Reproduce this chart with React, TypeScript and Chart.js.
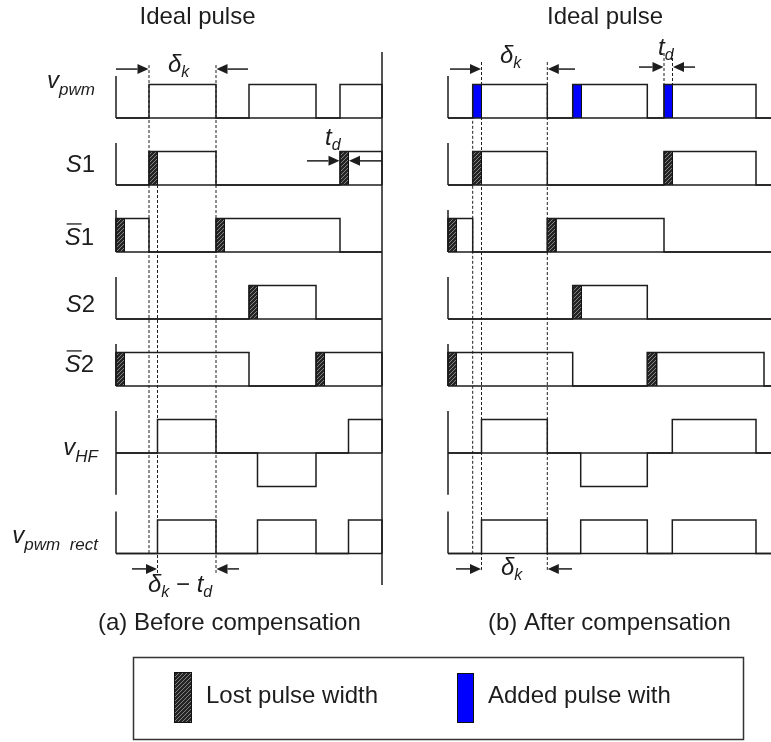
import React, { useEffect, useRef } from 'react';
import { Chart, registerables } from 'chart.js';

Chart.register(...registerables);

const FONT = '"Liberation Sans", Arial, Helvetica, sans-serif';
const INK = '#1d1d1d';
const BLUE = '#0000ff';

// ---- time axis (same units for both panels, each panel starts at t = 0) ----
const PANEL_A_OFFSET = 0;
const PANEL_B_OFFSET = 332;
const PANEL_A_END = 266;
const PANEL_B_END = 323;
const X_RANGE = [-116, 655];

// ---- rows: baseline level of each trace (logic-level units) ----
const ROW_BASES = [0, -2, -4, -6, -8, -10, -13];
const STUB = 1.25;
const Y_RANGE = [-18.627, 3.522];

type Seg = [number, number, number]; // start, end, level
type Span = [number, number];

// (a) Before compensation
const A_VPWM: Seg[] = [[33, 100, 1], [133, 200, 1], [224, 266, 1]];
const A_S1: Seg[] = [[33, 100, 1], [224, 266, 1]];
const A_S1BAR: Seg[] = [[0, 33, 1], [100, 224, 1]];
const A_S2: Seg[] = [[133, 200, 1]];
const A_S2BAR: Seg[] = [[0, 133, 1], [200, 266, 1]];
const A_VHF: Seg[] = [[41.5, 100, 1], [141.5, 200, -1], [232.5, 266, 1]];
const A_VRECT: Seg[] = [[41.5, 100, 1], [141.5, 200, 1], [232.5, 266, 1]];
const A_LOST_S1: Span[] = [[33, 41.5], [224, 232.5]];
const A_LOST_S1BAR: Span[] = [[0, 8.5], [100, 108.5]];
const A_LOST_S2: Span[] = [[133, 141.5]];
const A_LOST_S2BAR: Span[] = [[0, 8.5], [200, 208.5]];

// (b) After compensation
const B_VPWM: Seg[] = [[24.7, 99.3, 1], [124.7, 199.3, 1], [216, 308, 1]];
const B_S1: Seg[] = [[24.7, 99.3, 1], [216, 308, 1]];
const B_S1BAR: Seg[] = [[0, 24.7, 1], [99.3, 216, 1]];
const B_S2: Seg[] = [[124.7, 199.3, 1]];
const B_S2BAR: Seg[] = [[0, 124.7, 1], [199.3, 316, 1]];
const B_VHF: Seg[] = [[33.5, 99.3, 1], [132.7, 199.3, -1], [224.3, 308, 1]];
const B_VRECT: Seg[] = [[33.5, 99.3, 1], [132.7, 199.3, 1], [224.3, 308, 1]];
const B_ADDED_VPWM: Span[] = [[24.7, 33.5], [124.7, 133.5], [216, 224.5]];
const B_LOST_S1: Span[] = [[24.7, 33.5], [216, 224.5]];
const B_LOST_S1BAR: Span[] = [[0, 8.5], [99.3, 108]];
const B_LOST_S2: Span[] = [[124.7, 133.5]];
const B_LOST_S2BAR: Span[] = [[0, 8.5], [199.3, 208.7]];

// dashed guide lines: [t, yTop, yBottom]
const A_GUIDES = [[33, 1.58, -12.99], [41.5, -2, -13.58], [100, 1.58, -13.58]];
const B_GUIDES = [[24.7, 0.96, -12.99], [33.5, 1.67, -13.49], [99.3, 1.67, -13.49], [216, 1.94, 0.96], [224.5, 1.94, 0.96]];
const DIVIDER = [266, 1.97, -13.94];

// dimension arrows: [tFrom, tTip, y]
const A_ARROWS = [[0, 32.5, 1.46], [132, 100.5, 1.46], [191, 223.5, -1.28], [266, 233, -1.28], [16, 41, -13.46], [123, 100.5, -13.46]];
const B_ARROWS = [[2, 33, 1.46], [127, 99.8, 1.46], [191, 215.5, 1.52], [247, 225, 1.52], [8, 33, -13.46], [124, 99.8, -13.46]];

type Part = { t: string; it?: boolean; sub?: boolean };
const DK: Part[] = [{ t: 'δ', it: true }, { t: 'k', it: true, sub: true }];
const TD: Part[] = [{ t: 't', it: true }, { t: 'd', it: true, sub: true }];
const DK_TD: Part[] = [...DK, { t: ' − ' }, ...TD];

const ROW_LABELS: { parts: Part[]; bar?: boolean }[] = [
  { parts: [{ t: 'v', it: true }, { t: 'pwm', it: true, sub: true }] },
  { parts: [{ t: 'S', it: true }, { t: '1' }] },
  { parts: [{ t: 'S', it: true }, { t: '1' }], bar: true },
  { parts: [{ t: 'S', it: true }, { t: '2' }] },
  { parts: [{ t: 'S', it: true }, { t: '2' }], bar: true },
  { parts: [{ t: 'v', it: true }, { t: 'HF', it: true, sub: true }] },
  { parts: [{ t: 'v', it: true }, { t: 'pwm  rect', it: true, sub: true }] },
];
// layout of the row labels (right edge in t, baseline in y units)
const ROW_LABEL_RIGHT = [-21, -21, -22, -21, -22, -18, -18];
const ROW_LABEL_BASE = [0.9, -1.61, -3.79, -5.79, -7.58, -10.06, -12.69];

// annotation labels (panel, left t, baseline y)
const ANNOTS: { off: number; t: number; u: number; parts: Part[] }[] = [
  { off: PANEL_A_OFFSET, t: 52, u: 1.373, parts: DK },
  { off: PANEL_A_OFFSET, t: 209, u: -0.806, parts: TD },
  { off: PANEL_A_OFFSET, t: 32, u: -14.15, parts: DK_TD },
  { off: PANEL_B_OFFSET, t: 52, u: 1.642, parts: DK },
  { off: PANEL_B_OFFSET, t: 210, u: 1.881, parts: TD },
  { off: PANEL_B_OFFSET, t: 53, u: -13.64, parts: DK },
];

function drawRich(ctx: CanvasRenderingContext2D, parts: Part[], x: number, y: number, align: 'left' | 'right' | 'center', size: number, subSize: number, subDy: number) {
  const font = (p: Part) => `${p.it ? 'italic ' : ''}${p.sub ? subSize : size}px ${FONT}`;
  const widths = parts.map((p) => { ctx.font = font(p); return ctx.measureText(p.t).width; });
  const total = widths.reduce((a, b) => a + b, 0);
  let cx = align === 'left' ? x : align === 'right' ? x - total : x - total / 2;
  const starts: number[] = [];
  ctx.textAlign = 'left';
  ctx.textBaseline = 'alphabetic';
  parts.forEach((p, i) => {
    ctx.font = font(p);
    starts.push(cx);
    ctx.fillText(p.t, cx, p.sub ? y + subDy : y);
    cx += widths[i];
  });
  starts.push(cx);
  return starts;
}

function makeHatch(ctx: CanvasRenderingContext2D) {
  const c = document.createElement('canvas');
  c.width = 4; c.height = 4;
  const g = c.getContext('2d')!;
  g.fillStyle = '#242424';
  g.fillRect(0, 0, 4, 4);
  g.strokeStyle = '#8e8e8e';
  g.lineWidth = 0.9;
  g.beginPath();
  g.moveTo(0, 4); g.lineTo(4, 0);
  g.moveTo(-1, 1); g.lineTo(1, -1);
  g.moveTo(3, 5); g.lineTo(5, 3);
  g.stroke();
  return ctx.createPattern(c, 'repeat')!;
}

function wavePoints(segs: Seg[], base: number, off: number, end: number) {
  const pts = [{ x: off, y: base }];
  for (const [s, e, l] of segs) {
    pts.push({ x: off + s, y: base }, { x: off + s, y: base + l }, { x: off + e, y: base + l }, { x: off + e, y: base });
  }
  pts.push({ x: off + end, y: base });
  return pts;
}

function arrow(ctx: CanvasRenderingContext2D, x1: number, x2: number, y: number) {
  const dir = x2 > x1 ? 1 : -1;
  const hl = 11, hw = 5;
  ctx.beginPath();
  ctx.moveTo(x1, y);
  ctx.lineTo(x2 - dir * hl, y);
  ctx.stroke();
  ctx.beginPath();
  ctx.moveTo(x2, y);
  ctx.lineTo(x2 - dir * hl, y - hw);
  ctx.lineTo(x2 - dir * hl, y + hw);
  ctx.closePath();
  ctx.fill();
}

export default function App() {
  const ref = useRef<HTMLCanvasElement>(null);

  useEffect(() => {
    const canvas = ref.current!;
    const ctx0 = canvas.getContext('2d')!;
    const hatch = makeHatch(ctx0);

    const panels = [
      {
        off: PANEL_A_OFFSET, end: PANEL_A_END,
        rows: [A_VPWM, A_S1, A_S1BAR, A_S2, A_S2BAR, A_VHF, A_VRECT],
        lost: [[], A_LOST_S1, A_LOST_S1BAR, A_LOST_S2, A_LOST_S2BAR, [], []] as Span[][],
        added: [[], [], [], [], [], [], []] as Span[][],
        guides: A_GUIDES,
      },
      {
        off: PANEL_B_OFFSET, end: PANEL_B_END,
        rows: [B_VPWM, B_S1, B_S1BAR, B_S2, B_S2BAR, B_VHF, B_VRECT],
        lost: [[], B_LOST_S1, B_LOST_S1BAR, B_LOST_S2, B_LOST_S2BAR, [], []] as Span[][],
        added: [B_ADDED_VPWM, [], [], [], [], [], []] as Span[][],
        guides: B_GUIDES,
      },
    ];

    const datasets: any[] = [];
    const base = { pointRadius: 0, tension: 0, fill: false, borderColor: INK, borderWidth: 1.5, borderJoinStyle: 'miter', borderCapStyle: 'butt' };

    panels.forEach((p) => {
      // guides (bottom layer)
      p.guides.forEach(([t, y1, y2]) => {
        datasets.push({ ...base, data: [{ x: p.off + t, y: y1 }, { x: p.off + t, y: y2 }], borderWidth: 1, borderDash: [3, 2], order: 5 });
      });
      p.rows.forEach((segs, r) => {
        const b = ROW_BASES[r];
        const isBipolar = segs.some((s) => s[2] < 0);
        // blocks
        p.lost[r].forEach(([s, e]) => {
          datasets.push({ ...base, data: [{ x: p.off + s, y: b }, { x: p.off + s, y: b + 1 }, { x: p.off + e, y: b + 1 }, { x: p.off + e, y: b }], borderWidth: 1, borderColor: '#111', backgroundColor: hatch, fill: { value: b }, order: 3 });
        });
        p.added[r].forEach(([s, e]) => {
          datasets.push({ ...base, data: [{ x: p.off + s, y: b }, { x: p.off + s, y: b + 1 }, { x: p.off + e, y: b + 1 }, { x: p.off + e, y: b }], borderWidth: 1, borderColor: '#111', backgroundColor: BLUE, fill: { value: b }, order: 3 });
        });
        // stub (axis)
        datasets.push({ ...base, data: [{ x: p.off, y: b + STUB }, { x: p.off, y: isBipolar ? b - STUB : b }], order: 1 });
        // baseline (continuous)
        datasets.push({ ...base, data: [{ x: p.off, y: b }, { x: p.off + p.end, y: b }], order: 1 });
        // waveform
        datasets.push({ ...base, data: wavePoints(segs, b, p.off, p.end), order: 1 });
      });
    });
    // panel divider
    datasets.push({ ...base, data: [{ x: PANEL_A_OFFSET + DIVIDER[0], y: DIVIDER[1] }, { x: PANEL_A_OFFSET + DIVIDER[0], y: DIVIDER[2] }], order: 1 });

    const annot = {
      id: 'annot',
      afterDraw(chart: any) {
        const { ctx, scales } = chart;
        const xs = scales.x, ys = scales.y;
        const X = (v: number) => xs.getPixelForValue(v);
        const Y = (v: number) => ys.getPixelForValue(v);
        ctx.save();
        ctx.fillStyle = INK;
        ctx.strokeStyle = INK;
        ctx.lineWidth = 1.5;
        // arrows
        A_ARROWS.forEach(([a, b, u]) => arrow(ctx, X(PANEL_A_OFFSET + a), X(PANEL_A_OFFSET + b), Y(u)));
        B_ARROWS.forEach(([a, b, u]) => arrow(ctx, X(PANEL_B_OFFSET + a), X(PANEL_B_OFFSET + b), Y(u)));
        // annotation labels
        ANNOTS.forEach((an) => drawRich(ctx, an.parts, X(an.off + an.t), Y(an.u), 'left', 24, 16, 5));
        // row labels
        ROW_LABELS.forEach((lab, i) => {
          const yb = Y(ROW_LABEL_BASE[i]);
          const starts = drawRich(ctx, lab.parts, X(PANEL_A_OFFSET + ROW_LABEL_RIGHT[i]), yb, 'right', 24, 17, 7);
          if (lab.bar) {
            ctx.lineWidth = 1.3;
            ctx.beginPath();
            ctx.moveTo(starts[0] + 2, yb - 21);
            ctx.lineTo(starts[1] + 1, yb - 21);
            ctx.stroke();
            ctx.lineWidth = 1.5;
          }
        });
        // titles & captions
        ctx.font = `24px ${FONT}`;
        ctx.textAlign = 'center';
        ctx.textBaseline = 'alphabetic';
        ctx.fillText('Ideal pulse', 197.5, 24);
        ctx.fillText('Ideal pulse', 605, 24);
        ctx.textAlign = 'left';
        ctx.fillText('(a) Before compensation', 98, 630);
        ctx.fillText('(b) After compensation', 488, 630);
        // legend box
        ctx.lineWidth = 1.5;
        ctx.strokeStyle = '#333';
        ctx.strokeRect(133.5, 657.5, 610, 82);
        ctx.fillStyle = hatch;
        ctx.fillRect(174, 672, 18, 51);
        ctx.lineWidth = 1;
        ctx.strokeStyle = '#111';
        ctx.strokeRect(174.5, 672.5, 17, 50);
        ctx.fillStyle = BLUE;
        ctx.fillRect(457, 673, 17, 50);
        ctx.strokeRect(457.5, 673.5, 16, 49);
        ctx.fillStyle = INK;
        ctx.font = `24px ${FONT}`;
        ctx.fillText('Lost pulse width', 206, 703);
        ctx.fillText('Added pulse with', 488, 703);
        ctx.restore();
      },
    };

    const chart = new Chart(canvas, {
      type: 'line',
      data: { datasets },
      options: {
        animation: false,
        responsive: false,
        devicePixelRatio: 1,
        events: [],
        layout: { padding: 0 },
        plugins: { legend: { display: false }, tooltip: { enabled: false }, title: { display: false } },
        scales: {
          x: { type: 'linear', min: X_RANGE[0], max: X_RANGE[1], display: false },
          y: { type: 'linear', min: Y_RANGE[0], max: Y_RANGE[1], display: false },
        },
      },
      plugins: [annot],
    } as any);
    return () => chart.destroy();
  }, []);

  return (
    <div style={{ position: 'absolute', left: 0, top: 0, width: 771, height: 742, background: '#fff' }}>
      <canvas ref={ref} width={771} height={742} style={{ display: 'block', width: 771, height: 742 }} />
    </div>
  );
}
